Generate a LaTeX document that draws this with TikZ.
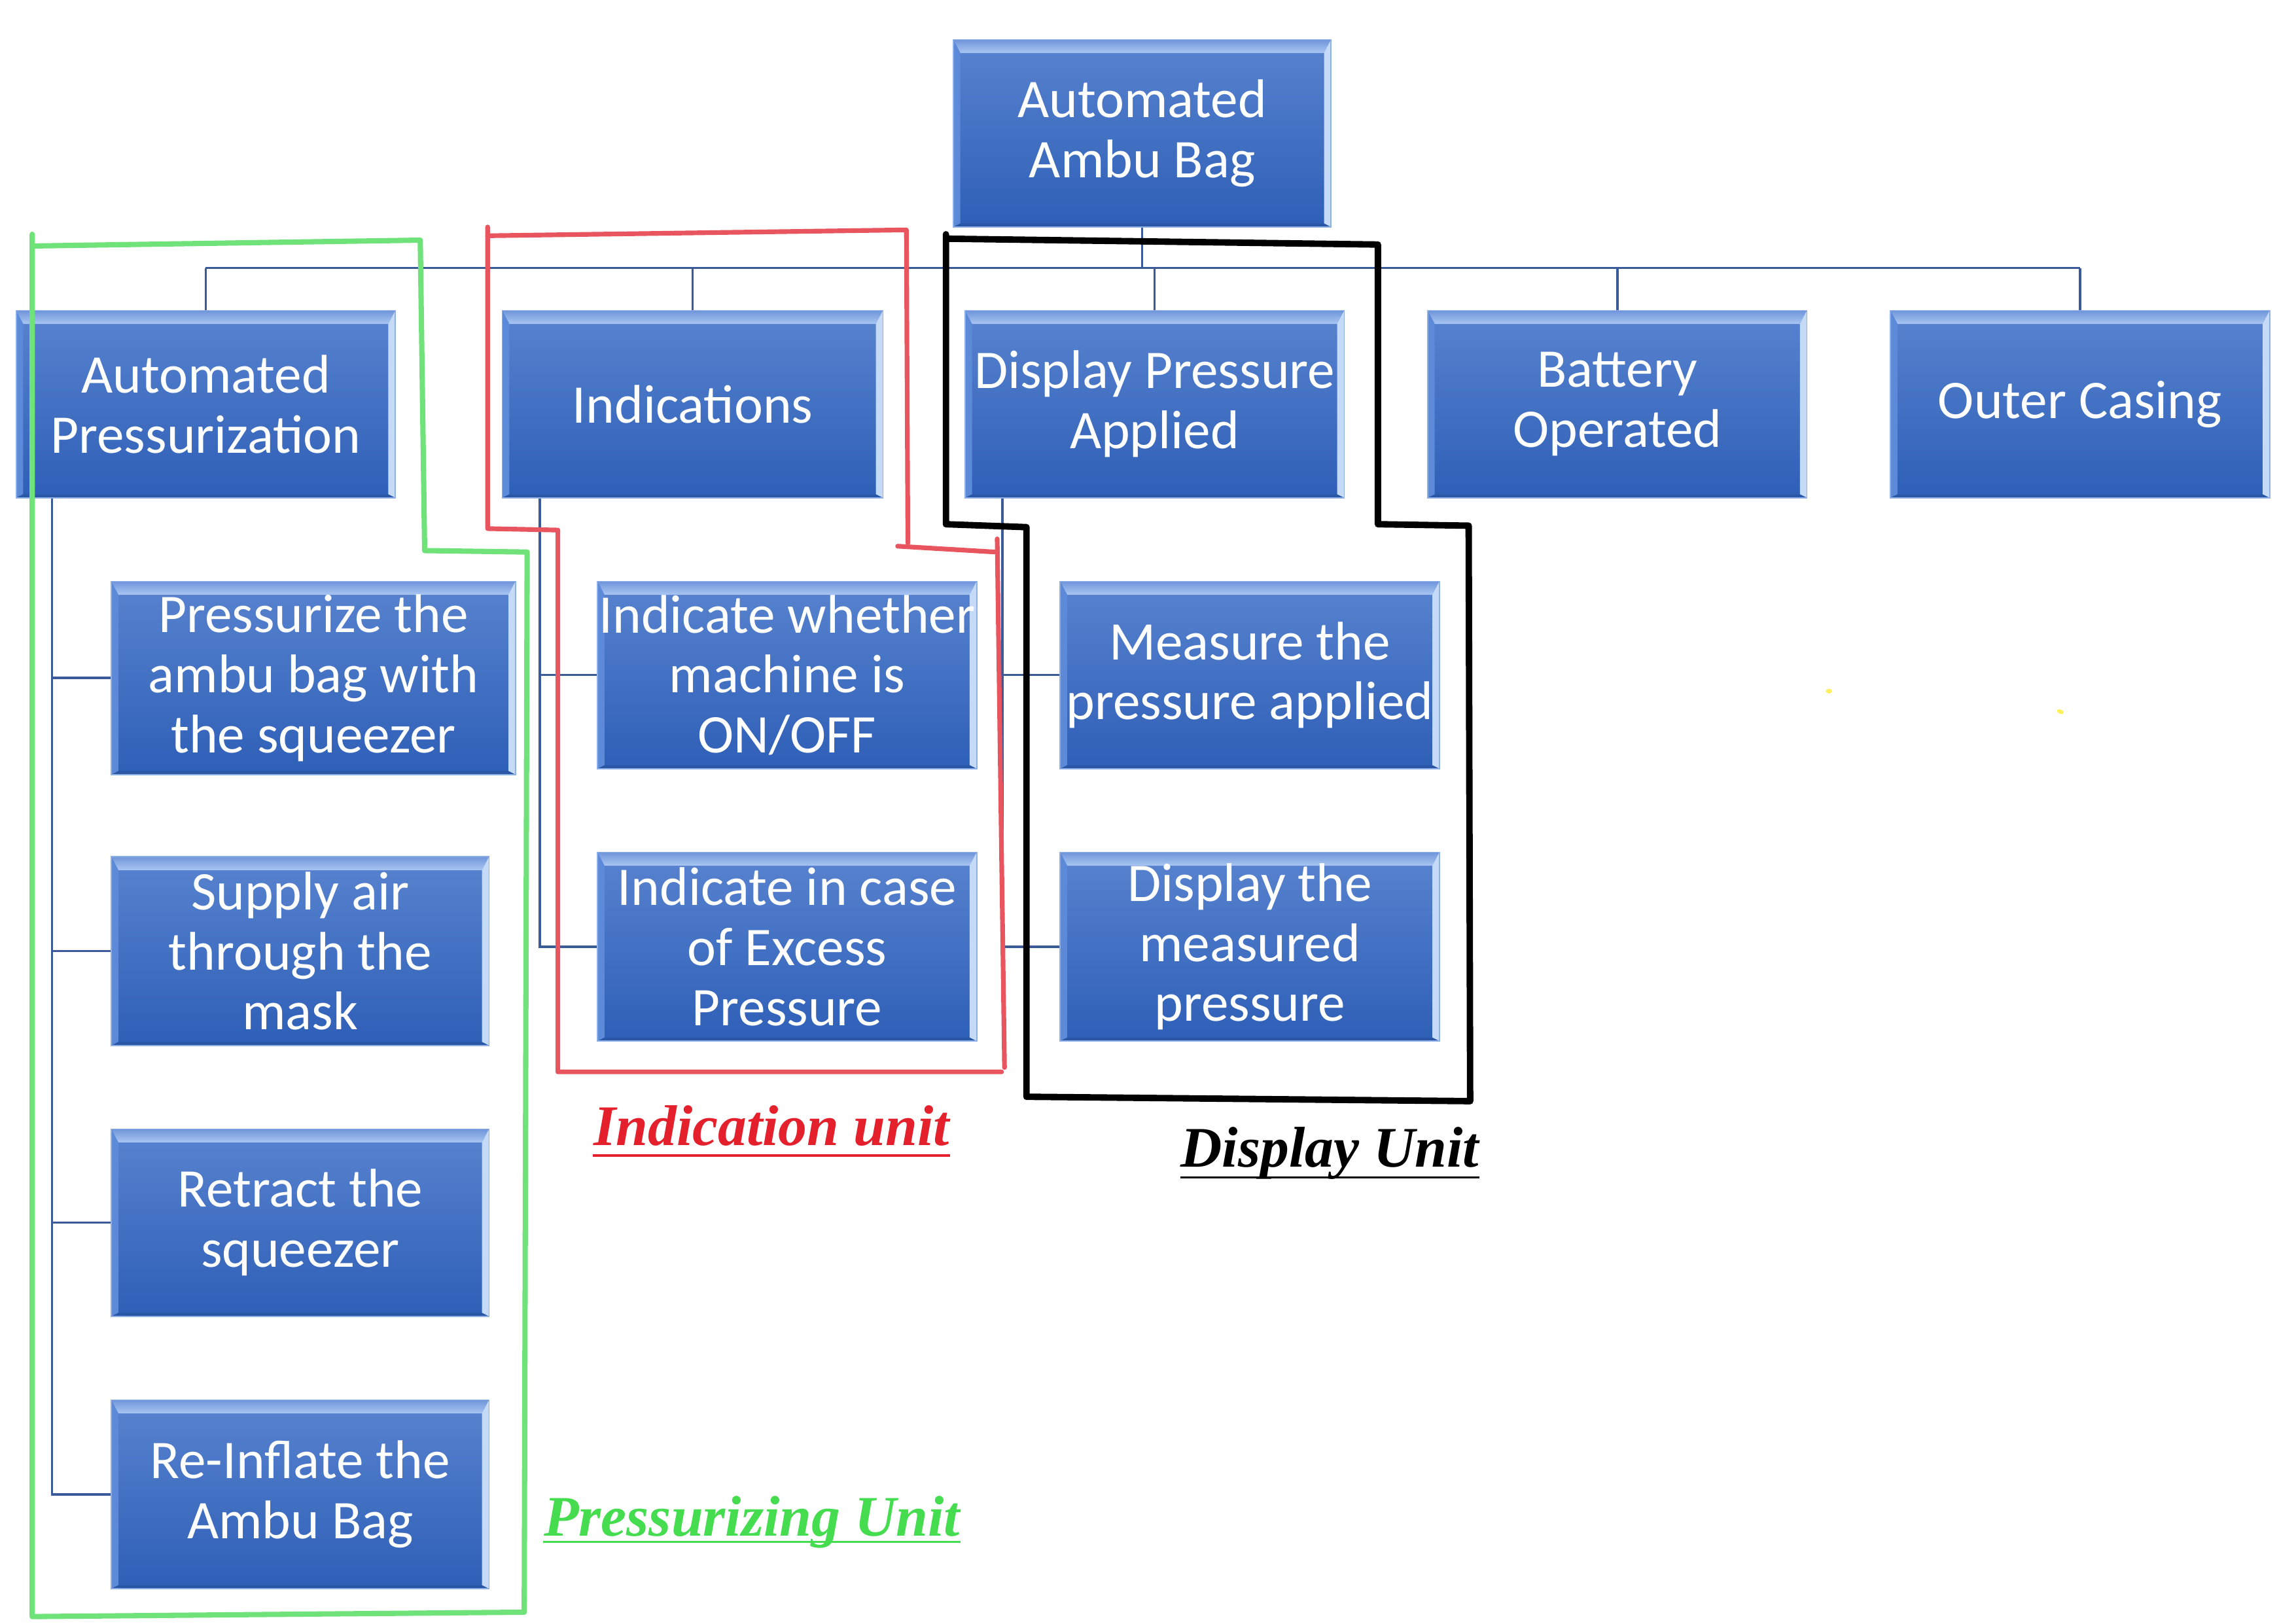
\documentclass[tikz,border=0pt]{standalone}
\usepackage{fontspec}
\newfontfamily\boxfont{Carlito}
\newfontfamily\tagfont{Liberation Serif}
\definecolor{boxtop}{HTML}{5883CF}
\definecolor{boxbot}{HTML}{2E5FB7}
\definecolor{bevtop}{HTML}{6F95DA}
\definecolor{bevhi}{HTML}{A9C6F2}
\definecolor{bevside}{HTML}{5C8AD8}
\definecolor{bevright}{HTML}{C4DAF6}
\definecolor{bevbot}{HTML}{2A56A6}
\definecolor{boxedge}{HTML}{8EB0E6}
\definecolor{connblue}{HTML}{3A5A9A}
\definecolor{grpgreen}{HTML}{6FE27A}
\definecolor{grpred}{HTML}{E8555F}
\definecolor{tagred}{HTML}{E3202B}
\definecolor{taggreen}{HTML}{45DC50}
\definecolor{dotyellow}{HTML}{FFF060}
\begin{document}
\begin{tikzpicture}[x=0.5pt,y=-0.5pt,
  box/.style 2 args={minimum width=#1*0.5pt, minimum height=#2*0.5pt,
    inner sep=0pt, align=center, text=white,
    font=\boxfont\fontsize{18.6}{20.5}\selectfont,
    top color=boxtop, bottom color=boxbot, draw=boxedge, line width=0.4pt,
    path picture={
      \coordinate (nw) at (path picture bounding box.north west);
      \coordinate (ne) at (path picture bounding box.north east);
      \coordinate (sw) at (path picture bounding box.south west);
      \coordinate (se) at (path picture bounding box.south east);
      \shade[top color=bevtop, bottom color=bevhi]
        (nw) -- (ne) -- ([shift={(-2.4pt,-4.6pt)}]ne) -- ([shift={(2.4pt,-4.6pt)}]nw) -- cycle;
      \fill[bevside] (nw) -- ([shift={(2.4pt,-4.6pt)}]nw) -- ([shift={(2.4pt,1.2pt)}]sw) -- (sw) -- cycle;
      \fill[bevright] (ne) -- ([shift={(-2.4pt,-4.6pt)}]ne) -- ([shift={(-2.4pt,1.2pt)}]se) -- (se) -- cycle;
      \fill[bevbot] (sw) -- ([shift={(2.4pt,1.2pt)}]sw) -- ([shift={(-2.4pt,1.2pt)}]se) -- (se) -- cycle;
    }},
  conn/.style={draw=connblue, line width=0.8pt},
  grp/.style={line width=#1, line join=round, line cap=round},
  tag/.style={inner sep=0pt, anchor=base west, font=\tagfont\bfseries\itshape\fontsize{19.6}{22}\selectfont}
]
% canvas
\fill[white] (0,0) rectangle (1568,1109);
\useasboundingbox (0,0) rectangle (1568,1109);

% top of the hierarchy
\node[box={258}{128}] (top) at (780,91) {Automated\\Ambu Bag};

% first level
\node[box={259}{128}] (ap)  at (140.5,276)  {Automated\\Pressurization};
\node[box={260}{128}] (ind) at (473,276)    {Indications};
\node[box={259}{128}] (dpa) at (788.5,276)  {Display Pressure\\Applied};
\node[box={259}{128}] (bat) at (1104.5,276) {Battery\\Operated};
\node[box={259}{128}] (oc)  at (1420.5,276) {Outer Casing};

% second level under Automated Pressurization
\node[box={276}{132}] (pc1) at (214,463)    {Pressurize the\\ambu bag with\\the squeezer};
\node[box={258}{129}] (pc2) at (205,649.5)  {Supply air\\through the\\mask};
\node[box={258}{128}] (pc3) at (205,835)    {Retract the\\squeezer};
\node[box={258}{129}] (pc4) at (205,1020.5) {Re-Inflate the\\Ambu Bag};

% second level under Indications
\node[box={259}{128}] (ic1) at (537.5,461)   {Indicate whether\\machine is\\ON/OFF};
\node[box={259}{129}] (ic2) at (537.5,646.5) {Indicate in case\\of Excess\\Pressure};

% second level under Display Pressure Applied
\node[box={259}{128}] (dc1) at (853.5,461)   {Measure the\\pressure applied};
\node[box={259}{129}] (dc2) at (853.5,646.5) {Display the\\measured\\pressure};

% connectors
\coordinate (bus) at (0,183);
\draw[conn] (top.south) -- (top.south |- bus);
\draw[conn] (ap.north |- bus) -- (oc.north |- bus);
\foreach \n in {ap,ind,dpa,bat,oc}
  \draw[conn] (\n.north) -- (\n.north |- bus);

\coordinate (apx)  at ([xshift=12.5pt]ap.south west);
\coordinate (indx) at ([xshift=13pt]ind.south west);
\coordinate (dpax) at ([xshift=13pt]dpa.south west);
\foreach \c in {pc1,pc2,pc3,pc4}
  \draw[conn] (apx) |- (\c.west);
\foreach \c in {ic1,ic2}
  \draw[conn] (indx) |- (\c.west);
\foreach \c in {dc1,dc2}
  \draw[conn] (dpax) |- (\c.west);

% hand-drawn group outlines
\draw[grp=1.8pt, grpgreen] (22,160) -- (22,1104) -- (358,1101) -- (360,377) -- (290,376) -- (287,164) -- (22,168);
\draw[grp=1.6pt, grpred] (333,155) -- (333,361) -- (381,362) -- (381,732) -- (684,732);
\draw[grp=1.6pt, grpred] (333,161) -- (619,157) -- (620,371);
\draw[grp=1.6pt, grpred] (613,373) -- (680,377);
\draw[grp=1.6pt, grpred] (681,368) -- (686,729);
\draw[grp=2.2pt, black] (646,160) -- (646,358) -- (701,360) -- (701,749) -- (1004,752) -- (1003,359) -- (941,358) -- (941,167) -- (646,163);

% stray highlighter marks
\fill[dotyellow] (1249,472) ellipse (2.2 and 1.6);
\fill[dotyellow, rotate around={-25:(1407,486)}] (1407,486) ellipse (2.6 and 1.4);

% group captions
\node[tag, text=tagred] (tind) at (405,782) {Indication unit};
\draw[tagred, line width=0.8pt] ([yshift=-3.5pt]tind.base west) -- ([yshift=-3.5pt]tind.base east);
\node[tag, text=black] (tdsp) at (806,797) {Display Unit};
\draw[black, line width=0.8pt] ([yshift=-3.5pt]tdsp.base west) -- ([yshift=-3.5pt]tdsp.base east);
\node[tag, text=taggreen] (tprs) at (371,1049) {Pressurizing Unit};
\draw[taggreen, line width=0.8pt] ([yshift=-2pt]tprs.base west) -- ([yshift=-2pt]tprs.base east);
\end{tikzpicture}
\end{document}
